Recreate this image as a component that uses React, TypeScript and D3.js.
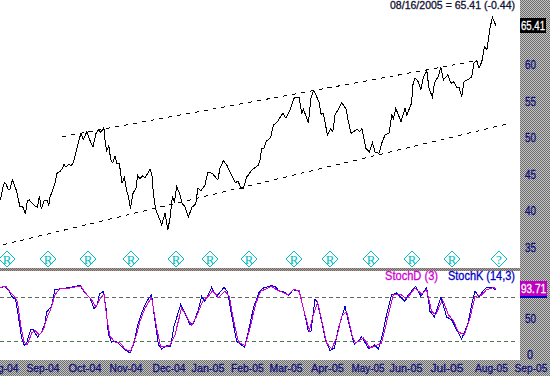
import React from "react";
import * as d3 from "d3";

type P = [number, number];

// [session, price]
const price: P[] = [[0,41.5],[0.5,41.9],[1.4,43.15],[2.2,43.9],[3,43.7],[4,43],[5,43],[6.2,44.25],[7,43.7],[8.4,42.65],[9.2,41.5],[10,40.6],[11.4,40.55],[12.7,39.55],[13.7,41.4],[14.7,41.5],[16.4,40.95],[17.9,40.6],[18.7,40.5],[19.7,42.05],[20.7,40.25],[22.2,41.5],[23.5,41.5],[24.4,40.7],[25,41.9],[26.4,42.9],[27.5,43.8],[28.4,45.15],[30,45.4],[31.2,45.85],[32,46.4],[33,46],[34.5,46.45],[35.4,46.2],[36.7,46.6],[38,48.1],[39.4,49.65],[40.5,50.65],[41.7,49.8],[43.4,50.85],[45,49.65],[46.5,48.75],[47.9,50.55],[49.2,51.1],[50.4,50.75],[51.9,51.45],[52.7,49.25],[53.4,48.25],[54.4,48.9],[55.4,47],[56.4,46.6],[57.5,47.55],[58.4,46.55],[59.7,46.45],[61,43.8],[62.2,44.6],[63.4,42.65],[63.9,42.4],[65.2,40.35],[66.5,42.4],[68.2,43.25],[68.7,44.95],[69.9,44.4],[71.2,44.8],[72.5,44.6],[73.9,45.15],[75,45.7],[75.9,45.15],[76.7,42.4],[77.9,40.15],[79.2,39.3],[80.9,38.1],[82.5,39.7],[83.9,37.4],[85,39],[86.2,41.95],[87.2,41.3],[88.4,43.35],[90,42.2],[91.2,40.95],[92.5,40.6],[94.2,39.15],[95.9,40.5],[97.9,40.95],[98.9,43.1],[100.5,42.8],[102.5,43.55],[103.9,45.3],[106.2,45.15],[108.9,44.25],[110,45.85],[111.7,46.9],[113.4,46.3],[114.7,45.5],[117.5,43.95],[119.2,44],[120.5,43],[121.7,43.1],[123.4,44.7],[124.2,44.9],[125.5,45.5],[127,45.85],[129.2,46.3],[130,47],[130.9,48.6],[132,48.6],[133,49.5],[135.4,50.1],[136.7,51.8],[138.4,52.1],[141.4,53.4],[143,52.7],[145,53.85],[147,55.45],[148.4,55.6],[149.5,55.6],[150.9,53.4],[151.7,53.95],[154.2,52.1],[155.5,55.45],[156.7,56.5],[158,55.9],[159.7,54.75],[160.5,53.25],[161.7,53.4],[163.7,50.4],[165.4,51.3],[166.4,50.85],[167.5,53.15],[169.2,53.95],[170.9,54.85],[173,53.95],[174.2,52.25],[175.5,50.65],[176.7,50.85],[178.7,51.2],[179.7,50.85],[181,51.3],[182.9,48.6],[184.7,48.1],[186.2,49.35],[187.5,48.1],[189.5,47.9],[190.9,49.3],[192.5,50.4],[194.5,50.65],[195.9,53.15],[196.7,52.7],[197.9,54.05],[200.5,52.25],[202.5,54.05],[203.4,53.15],[205.9,54.85],[206.2,57.05],[207.5,58.2],[209.2,57.7],[210.4,56.6],[211.7,58.3],[213.4,59.2],[214.5,56.8],[216.2,55.6],[217.2,57.5],[219.2,58.5],[220.4,59.75],[221.7,57.95],[223.9,58.65],[225.5,57.5],[227,57.7],[228.4,56.95],[229.5,56.95],[230.9,55.65],[232,57.7],[234.2,58.05],[235.9,58.4],[237,60.25],[238.4,60.6],[239.5,59.55],[240.9,60.45],[242.2,62.5],[243.4,62.05],[245,65.05],[246.2,66.55],[247.9,65.41]];

const upperTrend: P[] = [[31,50.18],[237.5,60.55]];
const lowerTrend: P[] = [[1.5,35.38],[255.5,52.05]];

// [session, %K]
const stochK: P[] = [[0,93],[2.5,95.3],[4.2,90.7],[5.8,81.4],[7.8,76.8],[9.2,53.7],[10.8,23.6],[12,13.4],[13.3,16.6],[15.3,35.1],[16.7,35.1],[18.7,24.9],[20.8,31.9],[22.5,44.4],[23.3,59.7],[25.8,67.5],[27.5,91.6],[29.2,91.6],[35,93.9],[40,96.7],[42.5,86.1],[45,79.1],[47,64.3],[48.7,69.9],[49.7,84.7],[51.7,88.4],[53,65.2],[54.2,28.2],[55.8,18],[58.3,19],[61.7,8.8],[65,2.7],[67,16.6],[68.7,39.8],[70.8,58.3],[73.3,74.5],[75.8,83.7],[77.5,46.7],[79.2,14.3],[80.8,8.3],[83.3,12.9],[85.3,12],[87,39.8],[90.3,69.9],[92.5,58.3],[95,42.1],[96.7,44.4],[99.2,62.9],[100.8,81.4],[102.5,74.5],[105.8,93.9],[108.3,81.4],[112,93.9],[113.7,88.4],[115.8,56],[118.3,19],[122.2,11.1],[124.2,32.8],[126.7,65.2],[129.7,88.4],[131.7,93],[135.8,96.3],[137.5,95.3],[140,87.5],[141.7,88.4],[144.2,82.8],[146.7,90.7],[149.5,88.4],[151.7,65.2],[154.2,32.8],[155.5,32.8],[157.5,78.2],[158.8,72.2],[160.8,46.7],[162.5,23.6],[165,6.4],[167.2,9.7],[169.2,37.5],[172.5,67.5],[175,37.5],[177.2,14.3],[180.8,24.9],[184.5,8.3],[187.2,14.3],[189.2,8.3],[191.2,28.2],[193.3,56],[195.8,83.7],[198.3,86.1],[202.5,74.5],[204.2,83.7],[207.8,95.3],[210.5,81.4],[213.3,93.9],[215,60.6],[217.2,52.7],[220.5,80.5],[223.3,52.7],[225.8,49],[228.3,35.1],[230.8,22.6],[233.8,42.1],[235.8,69.9],[237.5,88.4],[239.5,81.4],[242.8,93],[245.8,93.9],[247.8,90.7]];

// [session, %D]
const stochD: P[] = [[0,93.9],[3,95.3],[5,87.5],[6.7,82.8],[8.7,74.5],[10.3,42.1],[12,18],[13.7,14.3],[15.8,30.5],[17.5,34.2],[19.7,28.2],[21.7,35.1],[23.7,53.7],[25.3,62.9],[27.5,83.7],[29.7,91.6],[35,93],[40.3,95.8],[43.7,82.8],[45.8,76.8],[48,66.2],[49.7,76.8],[52,84.7],[53.3,53.7],[55,25.9],[57.5,18],[59.7,18],[62.5,8.3],[65.3,5],[68,25.9],[70,46.7],[72.5,65.2],[75.8,80],[78.3,37.5],[80.3,12],[82.5,11.1],[85,13.4],[87.5,28.2],[90.8,65.2],[93.3,53.7],[95.8,41.2],[98.3,53.7],[101.3,74.5],[104.2,81.4],[106.3,89.3],[109.2,80],[112.5,88.4],[114.7,81.4],[116.7,49],[119.2,18],[122.5,12.9],[125,37.5],[128,72.2],[130.3,88.4],[135.8,95.3],[138.3,90.7],[140.8,87.5],[144.2,83.7],[146.7,90.7],[149.5,89.8],[152.5,56],[154.7,33.8],[156.7,56],[158.8,73.6],[161.7,37.5],[163.3,16.6],[165.8,8.8],[168.3,23.6],[170.8,53.7],[173.3,60.6],[176.2,25.9],[177.8,16.6],[181.7,23.6],[185,9.7],[188.3,13.4],[190.8,16.6],[194.2,56],[196.7,83.7],[200,84.7],[203.3,78.2],[207.5,93],[210.8,84.7],[213.3,90.7],[215.8,60.6],[217.8,56],[221.3,76.8],[224.2,56],[226.7,47.6],[229.2,31.9],[232.2,28.2],[235,51.3],[237.5,81.4],[240.5,82.8],[243.3,90.7],[246.7,93.9],[247.8,92.1]];

const priceTicks = [60, 55, 50, 45, 40, 35];
const stochTicks = [50, 0];
const stochLevels = [80, 20];
const monthLabels: [string, number][] = [["Aug-04",1],["Sep-04",21.5],["Oct-04",42.5],["Nov-04",63],["Dec-04",84.5],["Jan-05",104],["Feb-05",123.7],["Mar-05",143],["Apr-05",163.7],["May-05",184],["Jun-05",203],["Jul-05",223.5],["Aug-05",245.7],["Sep-05",265.5]];
const markerSessions = [3.5, 24, 44.2, 65.5, 88, 105.2, 124.5, 147, 165, 185.5, 206, 226, 249.5];
const markerLetters = ["R","R","R","R","R","R","R","R","R","R","R","R","?"];

const W = 550;
const H = 376;
const FONT = "'Liberation Sans', Arial, sans-serif";
const NAVY = "#10107a";
const TEAL = "#00bcbc";

const x = d3.scaleLinear().domain([0, 275]).range([0, 550]);
const yPrice = d3.scaleLinear().domain([35, 60]).range([247.5, 65]);
const yStoch = d3.scaleLinear().domain([0, 100]).range([355, 283]);

const priceLine = d3.line<P>().x((d) => x(d[0])).y((d) => yPrice(d[1]));
const stochLine = d3.line<P>().x((d) => x(d[0])).y((d) => yStoch(d[1]));

function Label(props: { x: number; y: number; w: number; fill: string; size?: number; children: string; anchor?: string; halo?: number }) {
  return (
    <text
      x={props.x}
      y={props.y}
      fill={props.fill}
      stroke={props.fill}
      strokeWidth={props.halo ?? 0.3}
      fontFamily={FONT}
      fontSize={props.size ?? 12}
      textLength={props.w}
      lengthAdjust="spacingAndGlyphs"
      textAnchor={props.anchor ?? "start"}
    >
      {props.children}
    </text>
  );
}

export default function App() {
  return (
    <svg
      width={W}
      height={H}
      viewBox={`0 0 ${W} ${H}`}
      style={{ position: "absolute", left: 0, top: 0, display: "block", background: "#fff" }}
    >
      <defs>
        <pattern id="dither" width="2" height="2" patternUnits="userSpaceOnUse">
          <rect width="2" height="2" fill="#c4c4c4" />
          <rect width="1" height="1" fill="#6c6c6c" />
          <rect x="1" y="1" width="1" height="1" fill="#6c6c6c" />
        </pattern>
        <pattern id="ditherRed" width="2" height="2" patternUnits="userSpaceOnUse">
          <rect width="2" height="2" fill="#b09c9c" />
          <rect width="1" height="1" fill="#6c6c64" />
          <rect x="1" y="1" width="1" height="1" fill="#6c6c64" />
        </pattern>
      </defs>

      <rect x={0} y={0} width={W} height={H} fill="#fff" />
      <rect x={0} y={268} width={520} height={3} fill="url(#ditherRed)" />
      <rect x={520} y={0} width={30} height={H} fill="url(#dither)" />
      <rect x={0} y={360} width={W} height={16} fill="url(#dither)" />

      {/* trend channel */}
      {[upperTrend, lowerTrend].map((t, i) => (
        <path key={i} d={priceLine(t) ?? ""} fill="none" stroke="#000" strokeWidth={1} strokeDasharray="4 5" shapeRendering="crispEdges" />
      ))}

      {/* price */}
      <path d={priceLine(price) ?? ""} fill="none" stroke="#000" strokeWidth={1} shapeRendering="crispEdges" />

      {/* cycle markers */}
      {markerSessions.map((s, i) => {
        const cx = Math.round(x(s));
        const cy = 259;
        return (
          <g key={i}>
            <path
              d={`M${cx - 8},${cy}L${cx},${cy - 8}L${cx + 8},${cy}L${cx},${cy + 8}Z`}
              fill="#fff"
              stroke={TEAL}
              strokeWidth={1}
              shapeRendering="crispEdges"
            />
            <text x={cx} y={cy + 4.5} textAnchor="middle" fontFamily="'Liberation Serif', serif" fontSize={13} fill={TEAL}>
              {markerLetters[i]}
            </text>
          </g>
        );
      })}

      {/* stochastic levels */}
      {stochLevels.map((v, i) => (
        <line
          key={v}
          x1={0}
          x2={518}
          y1={Math.round(yStoch(v)) + 0.5}
          y2={Math.round(yStoch(v)) + 0.5}
          stroke={i === 0 ? "#666666" : "#4f7a4f"}
          strokeWidth={1}
          strokeDasharray="4 3"
        />
      ))}

      {/* stochastic */}
      <path d={stochLine(stochK) ?? ""} fill="none" stroke="#0000d8" strokeWidth={1} shapeRendering="crispEdges" />
      <path d={stochLine(stochD) ?? ""} fill="none" stroke="#d000d0" strokeWidth={1} shapeRendering="crispEdges" />

      {/* header + legend */}
      <Label x={390} y={9} w={125} size={11} fill="#101030">08/16/2005 = 65.41 (-0.44)</Label>
      <Label x={385} y={280} w={53} fill="#d000d0">StochD (3)</Label>
      <Label x={448} y={280} w={67} fill="#0000c8">StochK (14,3)</Label>

      {/* price axis */}
      {priceTicks.map((v) => (
        <Label key={v} x={525} y={yPrice(v) + 4} w={11} fill={NAVY}>{String(v)}</Label>
      ))}
      <rect x={520} y={18} width={26} height={15} fill="#000" />
      <Label x={521} y={30} w={24} fill="#fff">65.41</Label>

      {/* stochastic axis */}
      {stochTicks.map((v) => (
        <Label key={v} x={v === 0 ? 527 : 525} y={yStoch(v) + 4} w={v === 0 ? 6 : 11} fill={NAVY}>{String(v)}</Label>
      ))}
      <rect x={520} y={281} width={27} height={15} fill="#c000c0" />
      <rect x={520} y={296} width={27} height={2} fill="#0000c0" />
      <Label x={521} y={293} w={25} fill="#fff">93.71</Label>

      {/* month axis */}
      {monthLabels.map(([m, s]) => (
        <Label key={m} x={x(s)} y={371.5} w={33} size={11.5} fill={NAVY} anchor="middle">{m}</Label>
      ))}
    </svg>
  );
}
